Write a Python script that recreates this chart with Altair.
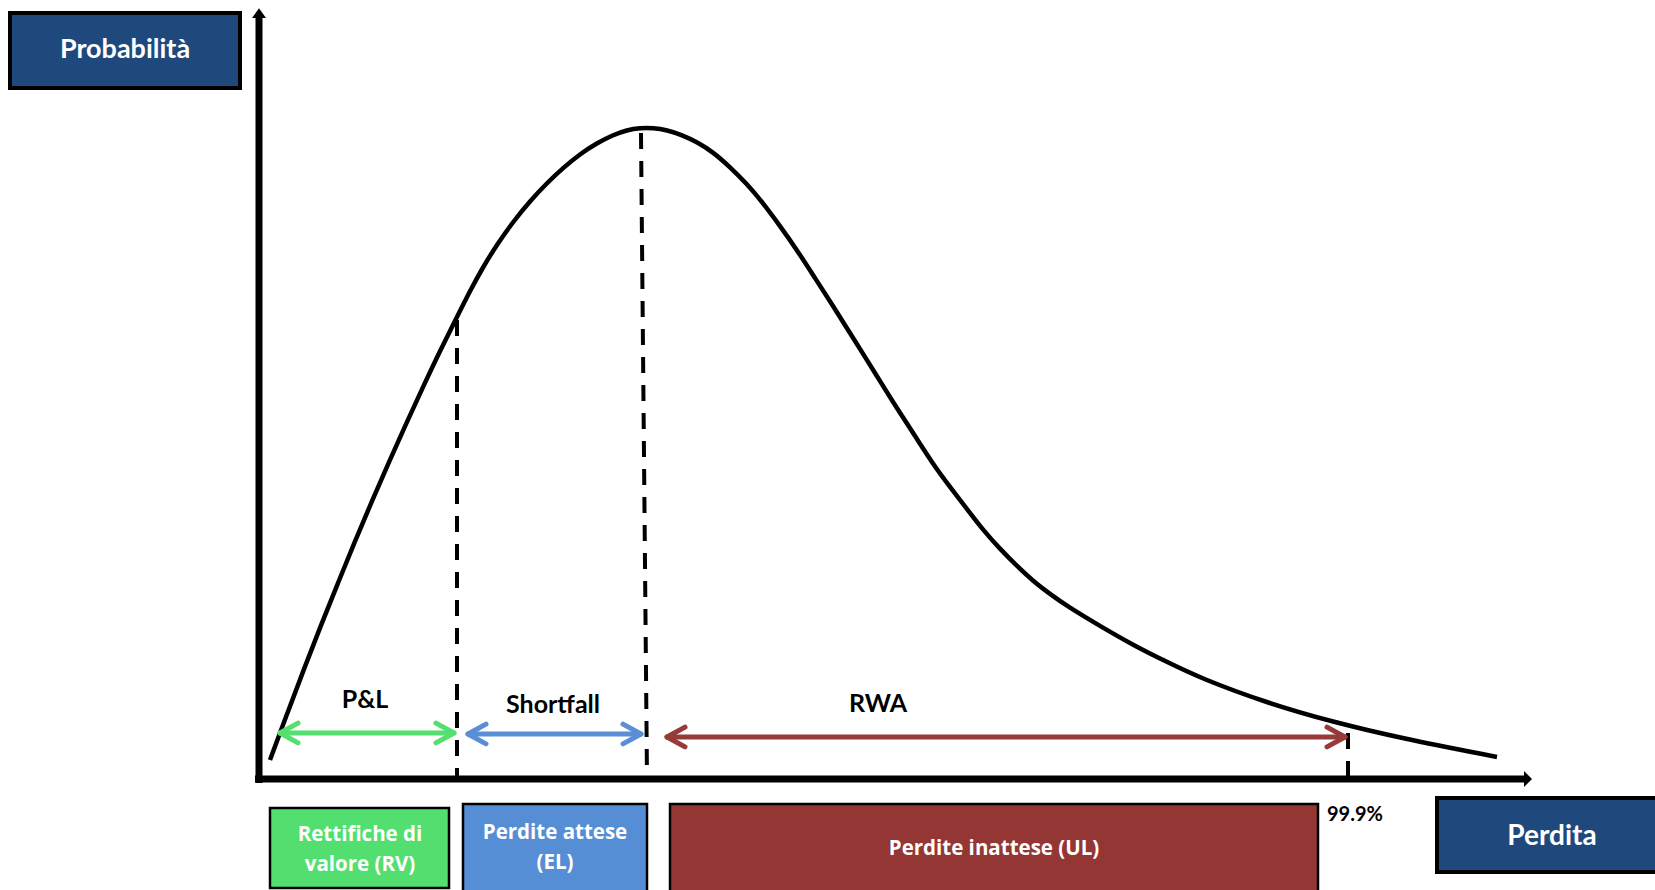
import altair as alt
import pandas as pd

# ---- data (x: loss units from origin, y: probability units above the x axis) ----
curve_x = [11, 28, 45, 62, 79, 96, 113, 130, 147, 164, 181, 198, 211, 224, 239, 254, 271, 288,
           304, 321, 338, 354, 368, 381, 394, 408, 423, 438, 454, 471, 488, 504, 521, 538, 556,
           574, 591, 608, 624, 641, 658, 674, 691, 708, 724, 741, 758, 774, 791, 808, 841, 874,
           908, 941, 1008, 1074, 1141, 1238]
curve_y = [19, 65, 110, 154, 196, 238, 278, 317, 355, 392, 428, 462, 488, 512, 536, 557, 578, 596,
           611, 625, 636, 644, 649, 651, 651, 649, 644, 637, 627, 612, 595, 576, 553, 529, 501,
           473, 446, 419, 393, 366, 340, 315, 292, 270, 249, 230, 213, 198, 185, 173, 153, 134,
           117, 101, 76, 57, 41, 22]

# dashed thresholds: RV limit, EL (mean), 99.9% quantile
thr_x_top = [198, 382, 1089]
thr_x_bot = [198, 388, 1089]
thr_y_top = [459, 646, 46]

# double arrows
arrow_labels = ["P&L", "Shortfall", "RWA"]
arrow_start = [21, 209, 408]
arrow_end = [195, 382, 1086]
arrow_y = [46, 45, 42]
arrow_colors = ["#55DF6E", "#5B8FD5", "#963A3A"]
label_x = [106, 294, 619]
label_y = [79, 74, 75]

# coloured boxes under the axis
box_x1 = [11, 204, 411]
box_x2 = [190, 388, 1059]
box_y1 = [-29, -25, -25]
box_y2 = [-109, -116, -116]
box_fill = ["#53DF6F", "#568ED6", "#943634"]
box_text = ["Rettifiche  di", "valore (RV)", "Perdite  attese", "(EL)", "Perdite  inattese  (UL)"]
box_text_x = [101, 101, 296, 296, 735]
box_text_y = [-56, -86, -54, -84, -70]

# title boxes
title_text = ["Probabilità", "Perdita"]
title_x1 = [-249, 1178]
title_x2 = [-19, 1410]
title_y1 = [691, -19]
title_y2 = [766, -93]
title_cx = [-134, 1293]
title_cy = [729, -58]
title_size = [27, 28]

quantile_label = "99.9%"
quantile_x = [1068]
quantile_y = [-36]

# axis extents
axis_x_end = 1265
axis_y_end = 761

XS = alt.Scale(domain=[-259, 1396], nice=False, zero=False)
YS = alt.Scale(domain=[-111, 779], nice=False, zero=False)
FONT = "Lato"
BOX_FONT = "Open Sans"

def X(f, t="Q"):
    return alt.X(f"{f}:{t}", scale=XS, axis=None)

def Y(f, t="Q"):
    return alt.Y(f"{f}:{t}", scale=YS, axis=None)

# ---- layers ----
titles = pd.DataFrame({"t": title_text, "x1": title_x1, "x2": title_x2, "y1": title_y1,
                       "y2": title_y2, "cx": title_cx, "cy": title_cy, "fs": title_size})
title_rects = alt.Chart(titles).mark_rect(fill="#1F497D", stroke="black", strokeWidth=4).encode(
    x=X("x1"), x2="x2", y=Y("y1"), y2="y2")
title_texts = alt.Chart(titles).mark_text(font=FONT, fontWeight="bold", color="white",
                                          align="center", baseline="middle").encode(
    x=X("cx"), y=Y("cy"), text="t:N", size=alt.Size("fs:Q", scale=None))

axes_df = pd.DataFrame({"x": [-4, 0], "x2": [axis_x_end, 0], "y": [0, -4], "y2": [0, axis_y_end]})
axes = alt.Chart(axes_df).mark_rule(color="black", strokeWidth=7).encode(
    x=X("x"), x2="x2", y=Y("y"), y2="y2")
xhead = alt.Chart(pd.DataFrame({"x": [axis_x_end], "y": [0]})).mark_point(
    shape="M0,-1L1,0L0,1Z", filled=True, color="black", opacity=1, size=256, strokeWidth=0).encode(
    x=X("x"), y=Y("y"))
yhead = alt.Chart(pd.DataFrame({"x": [0], "y": [axis_y_end]})).mark_point(
    shape="M-1,0L0,-1.4L1,0Z", filled=True, color="black", opacity=1, size=196, strokeWidth=0).encode(
    x=X("x"), y=Y("y"))

curve = alt.Chart(pd.DataFrame({"x": curve_x, "y": curve_y})).mark_line(
    color="black", strokeWidth=4.5, interpolate="basis", strokeCap="butt").encode(
    x=X("x"), y=Y("y"), order="x:Q")

thr = pd.DataFrame({"x": thr_x_top, "x2": thr_x_bot, "y": thr_y_top, "y2": [0, 0, 0]})
thresholds = alt.Chart(thr).mark_rule(color="black", strokeWidth=4, strokeDash=[16, 12]).encode(
    x=X("x"), x2="x2", y=Y("y"), y2="y2")

arr = pd.DataFrame({"lab": arrow_labels, "x": arrow_start, "x2": arrow_end, "y": arrow_y,
                    "c": arrow_colors, "lx": label_x, "ly": label_y})
shafts = alt.Chart(arr).mark_rule(strokeWidth=5, strokeCap="round").encode(
    x=X("x"), x2="x2", y=Y("y"), color=alt.Color("c:N", scale=None))
heads_r = alt.Chart(arr).mark_point(shape="M-1,-0.55L0,0L-1,0.55", filled=False, opacity=1,
                                    size=1296, strokeWidth=5, strokeCap="round",
                                    strokeJoin="round").encode(
    x=X("x2"), y=Y("y"), color=alt.Color("c:N", scale=None))
heads_l = alt.Chart(arr).mark_point(shape="M1,-0.55L0,0L1,0.55", filled=False, opacity=1,
                                    size=1296, strokeWidth=5, strokeCap="round",
                                    strokeJoin="round").encode(
    x=X("x"), y=Y("y"), color=alt.Color("c:N", scale=None))
arrow_text = alt.Chart(arr).mark_text(font=FONT, fontWeight="bold", fontSize=25, color="black",
                                      align="center", baseline="middle").encode(
    x=X("lx"), y=Y("ly"), text="lab:N")

boxes = pd.DataFrame({"x1": box_x1, "x2": box_x2, "y1": box_y1, "y2": box_y2, "f": box_fill})
box_rects = alt.Chart(boxes).mark_rect(stroke="black", strokeWidth=2.5).encode(
    x=X("x1"), x2="x2", y=Y("y1"), y2="y2", fill=alt.Fill("f:N", scale=None))
btext = pd.DataFrame({"t": box_text, "x": box_text_x, "y": box_text_y})
box_texts = alt.Chart(btext).mark_text(font=BOX_FONT, fontWeight="bold", fontSize=20.5, color="white",
                                       align="center", baseline="middle").encode(
    x=X("x"), y=Y("y"), text="t:N")

q = alt.Chart(pd.DataFrame({"t": [quantile_label], "x": quantile_x, "y": quantile_y})).mark_text(
    font=FONT, fontWeight="bold", fontSize=20, color="black", align="left", baseline="middle").encode(
    x=X("x"), y=Y("y"), text="t:N")

chart = alt.layer(
    title_rects, title_texts, box_rects, box_texts, q,
    thresholds, curve, shafts, heads_r, heads_l, arrow_text,
    axes, xhead, yhead,
).properties(
    width=1655, height=890, padding=0, autosize=alt.AutoSizeParams(type="none"),
    background="white",
).configure_view(stroke=None)

chart.save("out.html", embed_options={"renderer": "svg", "actions": False})
